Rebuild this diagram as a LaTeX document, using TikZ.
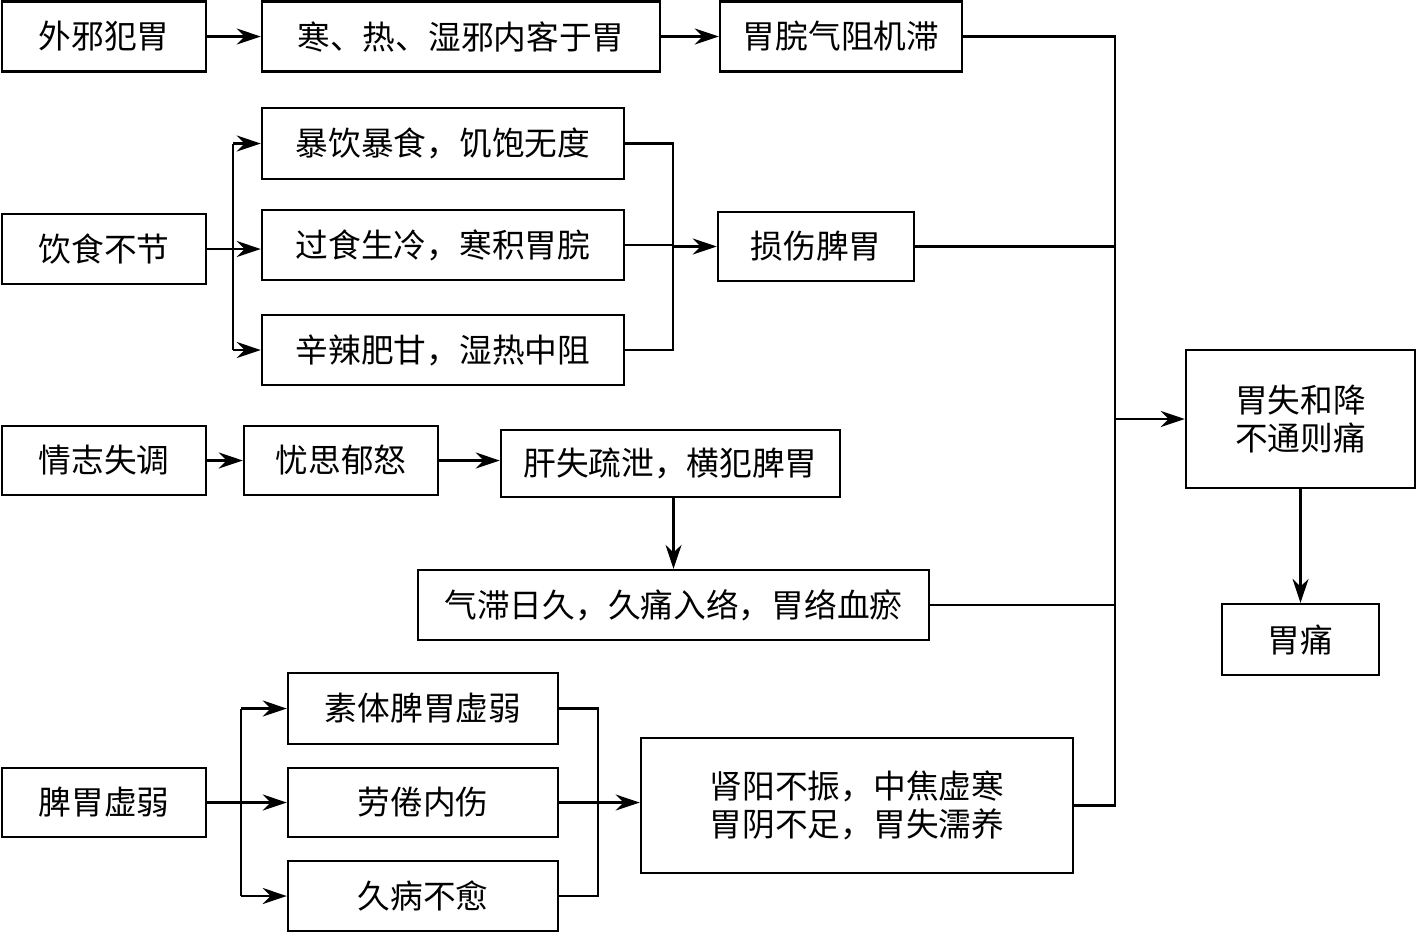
\documentclass[tikz,border=0pt]{standalone}
\usepackage{fontspec}
\setmainfont{Noto Sans CJK SC}
\usepackage{tikz}
\usetikzlibrary{arrows.meta, positioning}

\begin{document}
\begin{tikzpicture}[
    x=0.01cm, y=-0.01cm,
    box/.style={draw, rectangle, line width=0.65pt, minimum height=0.7cm, inner sep=0pt, align=center, font=\fontsize{9.3}{10.8}\selectfont},
    arrow/.style={-{Stealth[length=2.4mm, width=1.6mm]}, line width=0.65pt},
    line/.style={line width=0.65pt}
]
\useasboundingbox (0,0) rectangle (1416,935);

% Row 1
\node[box, minimum width=2.04cm] (waixie) at (104,36.5) {外邪犯胃};
\node[box, minimum width=3.98cm] (hanre) at (461,36.5) {寒、热、湿邪内客于胃};
\node[box, minimum width=2.42cm] (qizu) at (841,36.5) {胃脘气阻机滞};

% Diet
\node[box, minimum width=3.62cm, minimum height=0.71cm] (baoyin) at (443,143.5) {暴饮暴食，饥饱无度};
\node[box, minimum width=2.04cm] (yinshi) at (104,249) {饮食不节};
\node[box, minimum width=3.62cm] (shengleng) at (443,245) {过食生冷，寒积胃脘};
\node[box, minimum width=3.62cm] (xinla) at (443,350) {辛辣肥甘，湿热中阻};
\node[box, minimum width=1.96cm, minimum height=0.69cm] (sunshang) at (816,246.5) {损伤脾胃};

% Emotion
\node[box, minimum width=2.04cm, minimum height=0.69cm] (qingzhi) at (104,460.5) {情志失调};
\node[box, minimum width=1.94cm, minimum height=0.69cm] (yousi) at (341,460.5) {忧思郁怒};
\node[box, minimum width=3.39cm, minimum height=0.67cm] (ganshi) at (670.5,463.5) {肝失疏泄，横犯脾胃};
\node[box, minimum width=5.11cm] (qizhi) at (673.5,605) {气滞日久，久痛入络，胃络血瘀};

% Weakness
\node[box, minimum width=2.70cm, minimum height=0.71cm] (suti) at (423,708.5) {素体脾胃虚弱};
\node[box, minimum width=2.04cm, minimum height=0.69cm] (pixu) at (104,802.5) {脾胃虚弱};
\node[box, minimum width=2.70cm, minimum height=0.69cm] (laojuan) at (423,802.5) {劳倦内伤};
\node[box, minimum width=2.70cm] (jiubing) at (423,896) {久病不愈};
\node[box, minimum width=4.32cm, minimum height=1.35cm] (shenyang) at (857,805.5) {肾阳不振，中焦虚寒\\胃阴不足，胃失濡养};

% Result
\node[box, minimum width=2.29cm, minimum height=1.38cm] (shihe) at (1300.5,419) {胃失和降\\不通则痛};
\node[box, minimum width=1.57cm, minimum height=0.71cm] (weitong) at (1300.5,639.5) {胃痛};

\coordinate (busT) at (1115,36.5);
\coordinate (fork1) at (233,143.5);
\coordinate (join1) at (673,143.5);
\coordinate (fork2) at (241,708.5);
\coordinate (join2) at (598,708.5);

\draw[arrow] (waixie) -- (hanre);
\draw[arrow] (hanre) -- (qizu);

\draw[line] (fork1 |- baoyin.west) -- (fork1 |- xinla.west);
\draw[arrow] (fork1 |- baoyin.west) -- (baoyin.west);
\draw[arrow] (yinshi.east) -- (yinshi.east -| shengleng.west);
\draw[arrow] (fork1 |- xinla.west) -- (xinla.west);
\draw[line] (baoyin.east) -- (join1 |- baoyin.east) -- (join1 |- xinla.east) -- (xinla.east);
\draw[line] (shengleng.east) -- (join1 |- shengleng.east);
\draw[arrow] (join1 |- sunshang.west) -- (sunshang.west);

\draw[arrow] (qingzhi) -- (yousi);
\draw[arrow] (yousi.east) -- (yousi.east -| ganshi.west);
\draw[arrow] (qizhi.north |- ganshi.south) -- (qizhi.north);

\draw[line] (fork2 |- suti.west) -- (fork2 |- jiubing.west);
\draw[arrow] (fork2 |- suti.west) -- (suti.west);
\draw[arrow] (pixu) -- (laojuan);
\draw[arrow] (fork2 |- jiubing.west) -- (jiubing.west);
\draw[line] (suti.east) -- (join2 |- suti.east) -- (join2 |- jiubing.east) -- (jiubing.east);
\draw[arrow] (laojuan.east) -- (laojuan.east -| shenyang.west);

\draw[line] (qizu.east) -- (busT) -- (busT |- shenyang.east) -- (shenyang.east);
\draw[line] (sunshang.east) -- (busT |- sunshang.east);
\draw[line] (qizhi.east) -- (busT |- qizhi.east);
\draw[arrow] (busT |- shihe.west) -- (shihe.west);
\draw[arrow] (shihe) -- (weitong);
\end{tikzpicture}
\end{document}
